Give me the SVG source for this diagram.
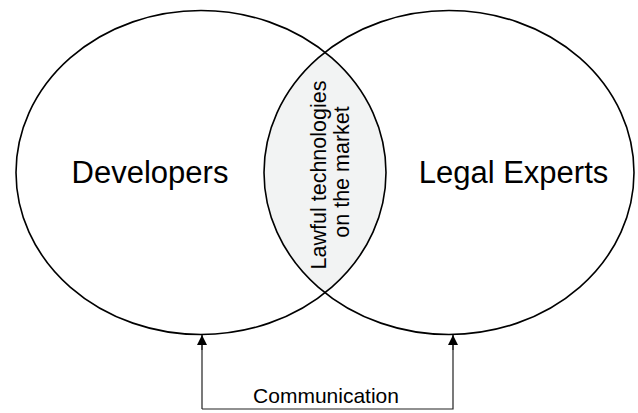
<svg xmlns="http://www.w3.org/2000/svg" width="638" height="413" viewBox="0 0 638 413">
  <style>
    .ring { fill: none; stroke: #000; stroke-width: 1.6; }
    .big { font-family: "Liberation Sans", Arial, sans-serif; font-size: 31px; fill: #000; text-anchor: middle; }
    .mid { font-family: "Liberation Sans", Arial, sans-serif; font-size: 21.5px; fill: #000; text-anchor: middle; }
    .lbl { font-family: "Liberation Sans", Arial, sans-serif; font-size: 21px; fill: #000; text-anchor: middle; }
    .conn { fill: none; stroke: #222; stroke-width: 1.2; }
  </style>
  <defs>
    <clipPath id="leftClip">
      <ellipse cx="201" cy="172.5" rx="185" ry="162"/>
    </clipPath>
    <marker id="arrow" viewBox="0 0 10 10" refX="10" refY="5" markerWidth="10" markerHeight="11" markerUnits="userSpaceOnUse" orient="auto-start-reverse">
      <path d="M0,0 L10,5 L0,10 Z" fill="#000"/>
    </marker>
  </defs>
  <rect width="638" height="413" fill="#fff"/>
  <g id="overlap">
    <ellipse cx="449" cy="172.5" rx="185" ry="162" fill="#f2f3f3" clip-path="url(#leftClip)"/>
    <text class="mid" transform="translate(325.5,172) rotate(-90)">
      <tspan x="0" y="0">Lawful technologies</tspan>
      <tspan x="0" y="23">on the market</tspan>
    </text>
  </g>
  <g id="developers">
    <ellipse class="ring" cx="201" cy="172.5" rx="185" ry="162"/>
    <text class="big" x="150" y="183">Developers</text>
  </g>
  <g id="legal-experts">
    <ellipse class="ring" cx="449" cy="172.5" rx="185" ry="162"/>
    <text class="big" x="513.5" y="183">Legal Experts</text>
  </g>
  <g id="connectors">
    <path class="conn" d="M202,409 L202,335 M202,409 L453,409 L453,335" />
    <path class="conn" d="M202,350 L202,335" marker-end="url(#arrow)"/>
    <path class="conn" d="M453,350 L453,335" marker-end="url(#arrow)"/>
    <text class="lbl" x="326" y="403">Communication</text>
  </g>
</svg>
